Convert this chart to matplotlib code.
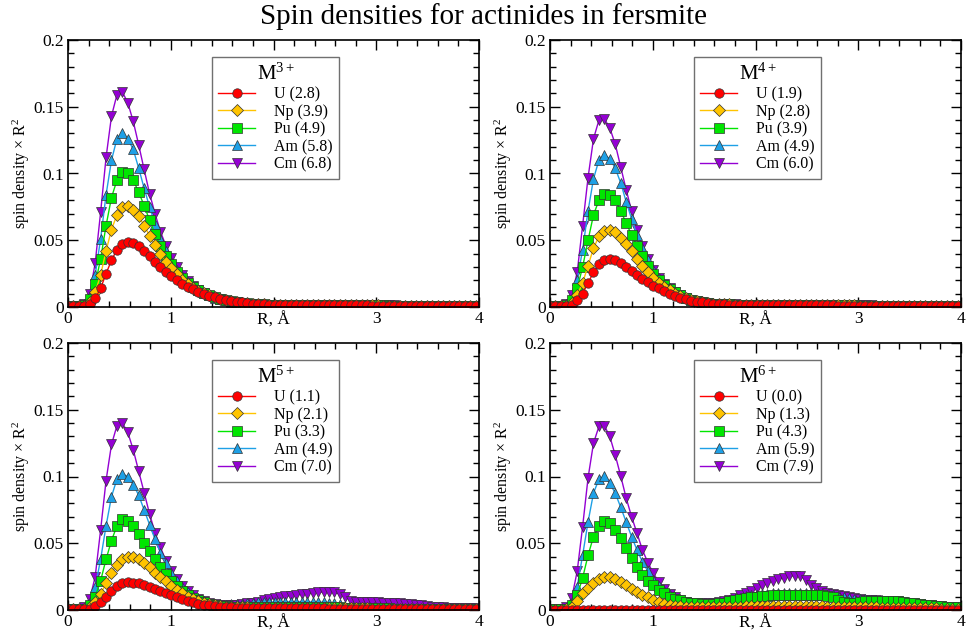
import matplotlib.pyplot as plt
import numpy as np
from matplotlib.ticker import FixedLocator, MultipleLocator

plt.rcParams['font.family'] = ['Liberation Serif', 'DejaVu Serif']
plt.rcParams['mathtext.fontset'] = 'custom'
plt.rcParams['mathtext.rm'] = 'Liberation Serif'
plt.rcParams['mathtext.it'] = 'Liberation Serif:italic'

# radial grid: 0.1 bohr steps, in angstrom
BOHR = 0.0529177
r = np.arange(76) * BOHR

# spin density x R^2, in units of 1e-3, one value per grid point
# ---- M3+ ----
u3 = [0.5, 0.5, 0.5, 0.8, 2.0, 6.5, 14, 25, 35, 43,
      47.5, 49, 48, 45.5, 42, 38, 34, 30, 26.5, 23,
      20, 17.5, 15.3, 13.3, 11.5, 10, 8.6, 7.4, 6.3, 5.4,
      4.6, 3.9, 3.4, 2.9, 2.5, 2.2, 2.0, 1.8, 1.7, 1.6,
      1.6, 1.5, 1.5, 1.5, 1.4, 1.4, 1.4, 1.4, 1.3, 1.3,
      1.3, 1.3, 1.2, 1.2, 1.2, 1.2, 1.1, 1.1, 1.1, 1.1,
      1.0, 1.0, 1.0, 1.0, 0.9, 0.9, 0.9, 0.9, 0.8, 0.8,
      0.8, 0.8, 0.7, 0.7, 0.7, 0.7]
np3 = [0.5, 0.5, 0.5, 1.0, 4.0, 11, 24, 42, 58, 69,
       75, 76, 73, 68, 61, 53.5, 46.5, 40, 34, 29,
       24.5, 20.5, 17.2, 14.5, 12.2, 10.3, 8.7, 7.3, 6.1, 5.2,
       4.4, 3.7, 3.2, 2.8, 2.4, 2.2, 2.0, 1.8, 1.7, 1.7,
       1.6, 1.6, 1.6, 1.5, 1.5, 1.5, 1.5, 1.4, 1.4, 1.4,
       1.4, 1.3, 1.3, 1.3, 1.2, 1.2, 1.2, 1.2, 1.1, 1.1,
       1.1, 1.0, 1.0, 1.0, 1.0, 0.9, 0.9, 0.9, 0.9, 0.8,
       0.8, 0.8, 0.8, 0.7, 0.7, 0.7]
pu3 = [0.5, 0.5, 0.6, 1.5, 6.0, 17, 36, 61, 82, 95,
       101, 100, 95, 86, 76, 65, 55, 46, 38, 32,
       26.5, 22, 18.2, 15.1, 12.5, 10.4, 8.7, 7.2, 6.0, 5.0,
       4.2, 3.6, 3.1, 2.7, 2.4, 2.1, 1.9, 1.8, 1.7, 1.7,
       1.7, 1.6, 1.6, 1.6, 1.5, 1.5, 1.5, 1.5, 1.4, 1.4,
       1.4, 1.4, 1.3, 1.3, 1.3, 1.2, 1.2, 1.2, 1.2, 1.1,
       1.1, 1.1, 1.0, 1.0, 1.0, 1.0, 0.9, 0.9, 0.9, 0.9,
       0.8, 0.8, 0.8, 0.8, 0.7, 0.7]
am3 = [0.5, 0.5, 0.7, 2.0, 8.0, 24, 51, 84, 110, 126,
       130, 126, 118, 104, 89, 75, 62, 51, 42, 34,
       28, 23, 19, 15.5, 12.8, 10.5, 8.7, 7.1, 5.9, 4.9,
       4.1, 3.5, 3.0, 2.6, 2.3, 2.1, 1.9, 1.8, 1.7, 1.7,
       1.7, 1.7, 1.6, 1.6, 1.6, 1.5, 1.5, 1.5, 1.5, 1.4,
       1.4, 1.4, 1.4, 1.3, 1.3, 1.3, 1.2, 1.2, 1.2, 1.2,
       1.1, 1.1, 1.1, 1.0, 1.0, 1.0, 1.0, 0.9, 0.9, 0.9,
       0.9, 0.8, 0.8, 0.8, 0.8, 0.7]
cm3 = [0.5, 0.5, 0.8, 2.5, 10, 33, 71, 112, 143, 159,
       161, 153, 139, 121.5, 103, 85, 70, 56.5, 46, 37,
       30, 24, 19.5, 16, 13, 10.6, 8.6, 7.0, 5.8, 4.8,
       4.0, 3.4, 2.9, 2.5, 2.2, 2.0, 1.8, 1.7, 1.7, 1.7,
       1.7, 1.7, 1.7, 1.6, 1.6, 1.6, 1.6, 1.5, 1.5, 1.5,
       1.5, 1.4, 1.4, 1.4, 1.3, 1.3, 1.3, 1.2, 1.2, 1.2,
       1.2, 1.1, 1.1, 1.1, 1.0, 1.0, 1.0, 1.0, 0.9, 0.9,
       0.9, 0.9, 0.8, 0.8, 0.8, 0.8]

# ---- M4+ ----
u4 = [0.5, 0.5, 0.5, 0.8, 1.5, 5, 10, 18, 26, 32,
      35, 36, 35, 33, 30, 27, 24, 21, 18.5, 16,
      14, 12, 10, 8.5, 7, 5.8, 4.8, 4.0, 3.4, 2.9,
      2.5, 2.2, 2.0, 1.8, 1.7, 1.6, 1.5, 1.5, 1.4, 1.4,
      1.4, 1.4, 1.3, 1.3, 1.3, 1.3, 1.3, 1.2, 1.2, 1.2,
      1.2, 1.2, 1.2, 1.1, 1.1, 1.1, 1.1, 1.1, 1.0, 1.0,
      1.0, 1.0, 1.0, 0.9, 0.9, 0.9, 0.9, 0.9, 0.8, 0.8,
      0.8, 0.8, 0.8, 0.7, 0.7, 0.7]
np4 = [0.5, 0.5, 0.5, 1.0, 3, 9, 18, 31, 44, 53,
       57, 58, 56, 52, 47, 42, 36, 31, 26, 22,
       18, 15, 12.5, 10, 8.2, 6.7, 5.4, 4.4, 3.6, 3.0,
       2.6, 2.3, 2.1, 1.9, 1.8, 1.7, 1.6, 1.6, 1.5, 1.5,
       1.5, 1.5, 1.4, 1.4, 1.4, 1.4, 1.4, 1.3, 1.3, 1.3,
       1.3, 1.3, 1.2, 1.2, 1.2, 1.2, 1.2, 1.1, 1.1, 1.1,
       1.1, 1.1, 1.0, 1.0, 1.0, 1.0, 0.9, 0.9, 0.9, 0.9,
       0.9, 0.8, 0.8, 0.8, 0.8, 0.7]
pu4 = [0.5, 0.5, 0.6, 1.5, 5, 14, 30, 50, 69, 80,
       85, 84, 80, 72, 63, 54, 46, 38, 31, 25,
       20.5, 16.5, 13.5, 11, 8.8, 7.0, 5.6, 4.5, 3.7, 3.0,
       2.6, 2.3, 2.1, 1.9, 1.8, 1.7, 1.7, 1.6, 1.6, 1.6,
       1.5, 1.5, 1.5, 1.5, 1.4, 1.4, 1.4, 1.4, 1.3, 1.3,
       1.3, 1.3, 1.3, 1.2, 1.2, 1.2, 1.2, 1.1, 1.1, 1.1,
       1.1, 1.0, 1.0, 1.0, 1.0, 0.9, 0.9, 0.9, 0.9, 0.9,
       0.8, 0.8, 0.8, 0.8, 0.7, 0.7]
am4 = [0.5, 0.5, 0.7, 2.0, 7, 20, 43, 72, 96, 110,
       114, 111, 104, 93, 79, 66, 54, 44, 35, 28,
       22, 17.5, 14, 11, 8.8, 7.0, 5.6, 4.5, 3.6, 3.0,
       2.6, 2.3, 2.1, 1.9, 1.8, 1.8, 1.7, 1.7, 1.6, 1.6,
       1.6, 1.6, 1.5, 1.5, 1.5, 1.5, 1.4, 1.4, 1.4, 1.4,
       1.3, 1.3, 1.3, 1.3, 1.2, 1.2, 1.2, 1.2, 1.1, 1.1,
       1.1, 1.1, 1.0, 1.0, 1.0, 1.0, 0.9, 0.9, 0.9, 0.9,
       0.8, 0.8, 0.8, 0.8, 0.7, 0.7]
cm4 = [0.5, 0.5, 0.8, 2.5, 9, 26, 61, 97, 126, 140,
       141, 134, 122, 105, 88, 72, 58, 46, 36, 28,
       22, 17.5, 14, 11, 8.7, 6.9, 5.5, 4.4, 3.6, 3.0,
       2.6, 2.3, 2.1, 2.0, 1.9, 1.8, 1.8, 1.7, 1.7, 1.7,
       1.7, 1.6, 1.6, 1.6, 1.6, 1.5, 1.5, 1.5, 1.5, 1.4,
       1.4, 1.4, 1.4, 1.3, 1.3, 1.3, 1.3, 1.2, 1.2, 1.2,
       1.1, 1.1, 1.1, 1.1, 1.0, 1.0, 1.0, 1.0, 0.9, 0.9,
       0.9, 0.8, 0.8, 0.8, 0.8, 0.7]

# ---- M5+ ----
u5 = [0.5, 0.5, 0.5, 0.6, 1.0, 3.0, 6.0, 10, 14, 18,
      20, 21, 20.5, 20, 19, 17.5, 16, 14.5, 13, 11,
      9.5, 8.0, 6.8, 5.7, 4.8, 4.0, 3.4, 2.9, 2.5, 2.2,
      2.0, 1.8, 1.7, 1.6, 1.5, 1.4, 1.4, 1.3, 1.3, 1.3,
      1.3, 1.2, 1.2, 1.2, 1.2, 1.2, 1.2, 1.2, 1.1, 1.1,
      1.1, 1.1, 1.0, 1.0, 1.0, 0.9, 0.9, 0.9, 0.9, 0.9,
      0.9, 0.8, 0.8, 0.8, 0.8, 0.8, 0.7, 0.7, 0.7, 0.7,
      0.7, 0.6, 0.6, 0.6, 0.6, 0.6]
np5 = [0.5, 0.5, 0.5, 0.8, 2.5, 6.0, 12, 20, 28, 34,
       38, 40, 39.5, 38, 35, 32, 28, 25, 21.5, 18,
       15, 12.5, 10, 8.0, 6.5, 5.2, 4.2, 3.5, 3.0, 2.6,
       2.3, 2.1, 2.0, 1.9, 1.8, 1.8, 1.8, 1.8, 1.8, 1.8,
       1.8, 1.8, 1.8, 1.8, 1.8, 1.8, 1.8, 1.7, 1.7, 1.7,
       1.6, 1.5, 1.4, 1.3, 1.2, 1.2, 1.1, 1.1, 1.1, 1.1,
       1.1, 1.0, 1.0, 1.0, 1.0, 0.9, 0.9, 0.9, 0.9, 0.8,
       0.8, 0.8, 0.8, 0.7, 0.7, 0.7]
pu5 = [0.5, 0.5, 0.6, 1.0, 4.0, 10, 22, 38, 52, 63,
       68, 67, 63, 57, 50, 44, 38, 32, 27, 22,
       18, 14.5, 11.5, 9.0, 7.2, 5.8, 4.7, 3.9, 3.3, 2.9,
       2.6, 2.4, 2.3, 2.2, 2.2, 2.2, 2.2, 2.2, 2.2, 2.2,
       2.2, 2.2, 2.2, 2.2, 2.2, 2.2, 2.1, 2.1, 2.0, 2.0,
       1.9, 1.8, 1.6, 1.5, 1.4, 1.3, 1.2, 1.2, 1.2, 1.2,
       1.1, 1.1, 1.1, 1.0, 1.0, 1.0, 1.0, 0.9, 0.9, 0.9,
       0.9, 0.8, 0.8, 0.8, 0.7, 0.7]
am5 = [0.5, 0.5, 0.7, 1.5, 6.0, 17, 38, 63, 85, 98,
       102, 100, 94, 86, 75, 64, 53, 43, 35, 28,
       22, 17, 13.5, 10.5, 8.3, 6.7, 5.5, 4.7, 4.2, 4.0,
       4.2, 4.5, 4.8, 5.1, 5.4, 5.7, 5.9, 6.0, 6.1, 6.2,
       6.2, 6.2, 6.2, 6.2, 6.1, 6.0, 5.9, 5.8, 5.6, 5.4,
       4.5, 2.5, 1.5, 1.3, 1.2, 1.2, 1.1, 1.1, 1.1, 1.1,
       1.0, 1.0, 1.0, 1.0, 0.9, 0.9, 0.9, 0.9, 0.8, 0.8,
       0.8, 0.8, 0.7, 0.7, 0.7, 0.7]
cm5 = [0.5, 0.5, 0.8, 2.0, 8.0, 25, 60, 97, 124, 138,
       140, 133, 120, 104, 88, 72, 58, 47, 37, 29,
       23, 18, 14, 11, 8.5, 6.8, 5.6, 4.7, 4.1, 3.8,
       3.8, 4.1, 4.5, 5.0, 5.6, 6.3, 7.2, 8.1, 9.0, 9.7,
       10.3, 10.8, 11.3, 11.8, 12.3, 12.8, 13.2, 13.5, 13.5, 13.2,
       12.0, 9.5, 7.0, 6.2, 6.0, 5.9, 5.8, 5.7, 5.6, 5.5,
       5.3, 5.0, 4.6, 4.2, 3.8, 3.4, 3.0, 2.6, 2.3, 2.0,
       1.8, 1.6, 1.5, 1.4, 1.3, 1.2]

# ---- M6+ ----
u6 = [0.3, 0.3, 0.3, 0.3, 0.3, 0.3, 0.3, 0.3, 0.3, 0.3,
      0.3, 0.3, 0.3, 0.3, 0.3, 0.3, 0.3, 0.3, 0.3, 0.3,
      0.3, 0.3, 0.3, 0.3, 0.3, 0.3, 0.3, 0.3, 0.3, 0.3,
      0.3, 0.3, 0.3, 0.3, 0.3, 0.3, 0.3, 0.3, 0.3, 0.3,
      0.3, 0.3, 0.3, 0.3, 0.3, 0.3, 0.3, 0.3, 0.3, 0.3,
      0.3, 0.3, 0.3, 0.3, 0.3, 0.3, 0.3, 0.3, 0.3, 0.3,
      0.3, 0.3, 0.3, 0.3, 0.3, 0.3, 0.3, 0.3, 0.3, 0.3,
      0.3, 0.3, 0.3, 0.3, 0.3, 0.3]
np6 = [0.3, 0.3, 0.3, 0.5, 2.0, 6.5, 12.5, 16.5, 20, 23,
       24.5, 24.5, 23, 21, 18.5, 16, 13.5, 11.5, 9.5, 7.5,
       6.0, 4.8, 3.8, 3.2, 2.7, 2.4, 2.2, 2.1, 2.0, 2.0,
       2.0, 2.1, 2.2, 2.3, 2.5, 2.6, 2.7, 2.8, 2.9, 3.0,
       3.0, 3.0, 3.0, 3.0, 3.0, 3.0, 3.0, 3.0, 3.0, 2.9,
       2.8, 2.6, 2.4, 2.2, 2.1, 2.0, 2.0, 2.0, 2.0, 1.9,
       1.9, 1.8, 1.8, 1.7, 1.6, 1.5, 1.5, 1.4, 1.3, 1.3,
       1.2, 1.2, 1.1, 1.1, 1.0, 1.0]
pu6 = [0.5, 0.5, 0.5, 1.0, 4.0, 11, 24, 41, 55, 63,
       66.5, 65, 60, 54, 46.5, 39, 32.5, 26.5, 22, 18.5,
       15, 12.5, 10, 8.5, 7.2, 6.2, 5.5, 5.0, 4.7, 4.5,
       4.6, 5.0, 5.6, 6.4, 7.3, 8.2, 9.0, 9.6, 10.1, 10.5,
       10.8, 11.0, 11.1, 11.2, 11.3, 11.3, 11.4, 11.4, 11.4, 11.3,
       11.2, 10.8, 9.5, 7.5, 6.0, 5.5, 5.6, 6.0, 6.5, 6.8,
       7.0, 7.0, 7.0, 6.8, 6.5, 6.0, 5.5, 5.0, 4.5, 4.0,
       3.6, 3.2, 2.8, 2.5, 2.2, 2.0]
am6 = [0.5, 0.5, 0.8, 1.5, 6.0, 17.5, 41, 66, 87.5, 98,
       100.5, 95, 87.5, 77, 66, 55, 45, 36, 29, 22.5,
       18, 14, 11, 8.7, 7.0, 5.8, 5.0, 4.6, 4.5, 4.6,
       5.0, 5.6, 6.4, 7.3, 8.3, 9.3, 10.2, 11.0, 11.6, 12.0,
       12.3, 12.5, 12.6, 12.7, 12.7, 12.7, 12.6, 12.5, 12.4, 12.2,
       12.0, 11.6, 11.0, 10.2, 9.5, 9.0, 8.6, 8.2, 7.9, 7.7,
       7.5, 7.3, 7.1, 6.8, 6.5, 6.1, 5.7, 5.2, 4.7, 4.2,
       3.7, 3.3, 2.9, 2.6, 2.3, 2.0]
cm6 = [0.5, 0.5, 1.0, 2.0, 9.0, 29, 62.5, 99, 125, 137.5,
       138, 130, 116, 100.5, 84, 70, 57.5, 45, 35.5, 27.5,
       21, 16, 12.3, 9.5, 7.5, 6.2, 5.4, 5.0, 4.9, 5.0,
       5.3, 5.8, 6.6, 7.7, 9.2, 11, 12.8, 14.5, 16.5, 18.5,
       20.3, 21.8, 23, 24.2, 25.2, 25.8, 25.8, 22.5, 19, 16.5,
       14.5, 13, 12, 11, 10.2, 9.5, 8.8, 8.2, 7.8, 7.5,
       7.3, 7.1, 6.9, 6.7, 6.4, 6.0, 5.6, 5.1, 4.6, 4.1,
       3.7, 3.3, 2.9, 2.6, 2.3, 2.0]

elements = ["U", "Np", "Pu", "Am", "Cm"]
charges = ["3+", "4+", "5+", "6+"]
mom3 = [2.8, 3.9, 4.9, 5.8, 6.8]
mom4 = [1.9, 2.8, 3.9, 4.9, 6.0]
mom5 = [1.1, 2.1, 3.3, 4.9, 7.0]
mom6 = [0.0, 1.3, 4.3, 5.9, 7.9]

x_ticklabels = ["0", "1", "", "3", "4"]
y_ticklabels = ["0", "0.05", "0.1", "0.15", "0.2"]

colors = ["#ff0000", "#ffc400", "#00e600", "#1ea0e6", "#9400d3"]
markers = ["o", "D", "s", "^", "v"]
msizes = [6.8, 6.5, 6.5, 7.5, 7.5]


def draw_panel(ax, charge, moments, series):
    handles = [None] * len(series)
    # last series goes under, U is drawn on top
    for k in reversed(range(len(series))):
        (h,) = ax.plot(r, np.array(series[k]) * 1e-3, color=colors[k], lw=1.0,
                       marker=markers[k], ms=msizes[k], mfc=colors[k],
                       mec='#333333', mew=0.5)
        handles[k] = h
    labels = ["%s (%.1f)" % (e, m) for e, m in zip(elements, moments)]
    leg = ax.legend(handles, labels, title=r"$\mathrm{M}^{%s}$" % charge,
                    loc="upper left", bbox_to_anchor=(0.35, 0.936),
                    borderaxespad=0, fontsize=11.5, title_fontsize=15,
                    frameon=True, fancybox=False, edgecolor="#707070",
                    framealpha=1, handlelength=2.3, handletextpad=1.2,
                    labelspacing=0.1, borderpad=0.4)
    leg.get_frame().set_linewidth(1.0)

    ax.set_xlim(0, 4)
    ax.set_ylim(0, 0.2)
    ax.xaxis.set_major_locator(FixedLocator([0, 1, 2, 3, 4]))
    ax.set_xticklabels(x_ticklabels)
    ax.xaxis.set_minor_locator(MultipleLocator(0.2))
    ax.yaxis.set_major_locator(FixedLocator([0, 0.05, 0.1, 0.15, 0.2]))
    ax.set_yticklabels(y_ticklabels)
    ax.yaxis.set_minor_locator(MultipleLocator(0.01))
    ax.tick_params(which='both', direction='in', top=True, right=True,
                   labelsize=12.5, width=1.0, pad=3)
    ax.tick_params(which='major', length=7)
    ax.tick_params(which='minor', length=4)
    for s in ax.spines.values():
        s.set_linewidth(1.2)

    ax.set_xlabel("R, Å", fontsize=12.5)
    ax.xaxis.set_label_coords(0.5, -0.02)
    ax.set_ylabel(r"spin density × $\mathrm{R}^{2}$", fontsize=11.5)
    ax.yaxis.set_label_coords(-0.088, 0.5)


fig = plt.figure(figsize=(9.67, 6.37), dpi=100)
W, H = 967.0, 637.0
boxes = [(68, 40), (550, 40), (68, 343), (550, 343)]
panels = [
    (charges[0], mom3, [u3, np3, pu3, am3, cm3]),
    (charges[1], mom4, [u4, np4, pu4, am4, cm4]),
    (charges[2], mom5, [u5, np5, pu5, am5, cm5]),
    (charges[3], mom6, [u6, np6, pu6, am6, cm6]),
]
for (left, top), (charge, moments, series) in zip(boxes, panels):
    ax = fig.add_axes([left / W, 1 - (top + 267) / H, 411 / W, 267 / H])
    draw_panel(ax, charge, moments, series)

fig.text(0.5, 1 - 17 / H, "Spin densities for actinides in fersmite",
         ha='center', va='center', fontsize=21)

fig.savefig("out.png", dpi=100, facecolor='white')
